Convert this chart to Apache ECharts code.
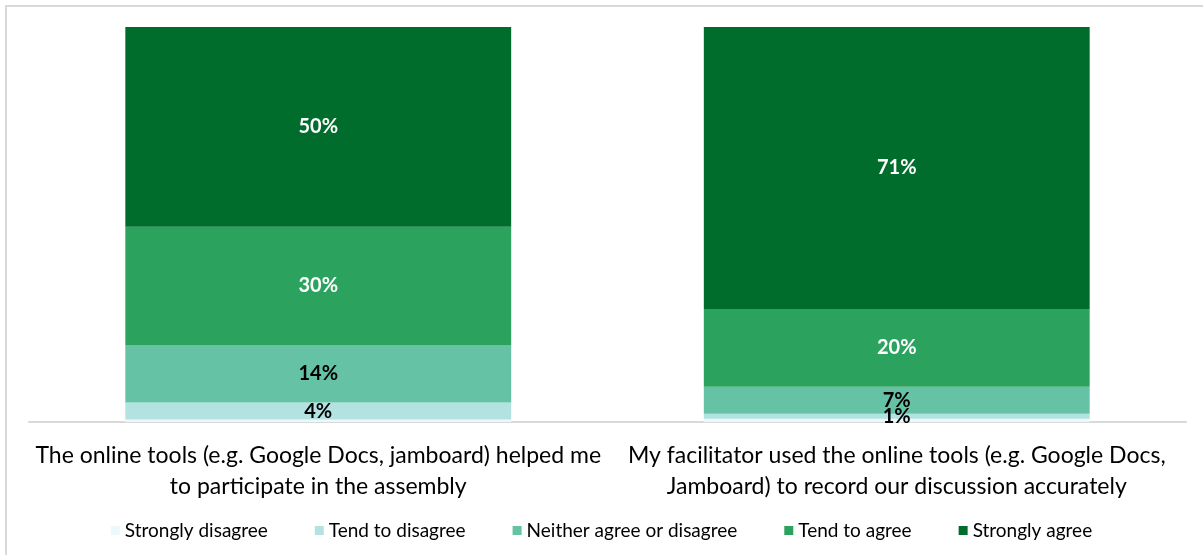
<!DOCTYPE html>
<html>
<head>
<meta charset="utf-8">
<script src="https://cdn.jsdelivr.net/npm/echarts@6/dist/echarts.min.js"></script>
<style>
  html, body { margin: 0; padding: 0; background: #fff; }
  #chart { width: 1203px; height: 555px; }
</style>
</head>
<body>
<div id="chart"></div>
<script>
// 问题（类目）
const categories = [
    'The online tools (e.g. Google Docs, jamboard) helped me\nto participate in the assembly',
    'My facilitator used the online tools (e.g. Google Docs,\nJamboard) to record our discussion accurately'
];

// 各选项名称与颜色
const seriesNames = ['Strongly disagree', 'Tend to disagree', 'Neither agree or disagree', 'Tend to agree', 'Strongly agree'];
const seriesColors = ['#edf8fb', '#b2e2e2', '#66c2a4', '#2ca25f', '#006d2c'];
const labelColors = [null, '#000', '#000', '#fff', '#fff'];

// 每个选项的百分比
const stronglyDisagree = [0.6, 0.8];
const tendDisagree = [4.3, 1.3];
const neither = [14.4, 6.8];
const tendAgree = [29.9, 19.7];
const stronglyAgree = [50.3, 71.4];

const values = [stronglyDisagree, tendDisagree, neither, tendAgree, stronglyAgree];

// 100% 堆叠：按每个类目的总和归一化
const totals = categories.map((c, i) => values.reduce((s, arr) => s + arr[i], 0));

const chart = echarts.init(document.getElementById('chart'));

const series = values.map((arr, k) => ({
    name: seriesNames[k],
    type: 'bar',
    stack: 'total',
    barWidth: '66.7%',
    itemStyle: { color: seriesColors[k] },
    data: arr.map((v, i) => v / totals[i] * 100),
    label: {
        show: labelColors[k] !== null,
        position: 'inside',
        color: labelColors[k] || '#000',
        fontFamily: 'Lato',
        fontWeight: 'bold',
        fontSize: 20,
        formatter: p => Math.round(arr[p.dataIndex]) + '%'
    }
}));

chart.setOption({
    backgroundColor: '#fff',
    animation: false,
    graphic: [{
        type: 'rect',
        shape: { x: 6, y: 6, width: 1210, height: 560 },
        style: { fill: 'none', stroke: '#d9d9d9', lineWidth: 2 },
        silent: true
    }],
    grid: { left: 29, right: 17, top: 27, bottom: 133 },
    legend: {
        data: seriesNames,
        bottom: 10,
        left: 'center',
        icon: 'rect',
        itemWidth: 9,
        itemHeight: 9,
        itemGap: 47,
        textStyle: { fontFamily: 'Lato', fontSize: 19, color: '#000' }
    },
    xAxis: {
        type: 'category',
        data: categories,
        axisLine: { lineStyle: { color: '#d9d9d9', width: 2 } },
        axisTick: { show: false },
        axisLabel: {
            fontFamily: 'Lato',
            fontSize: 23,
            lineHeight: 31,
            color: '#000',
            margin: 18,
            interval: 0
        }
    },
    yAxis: {
        type: 'value',
        min: 0,
        max: 100,
        show: false
    },
    series: series
});
</script>
</body>
</html>
